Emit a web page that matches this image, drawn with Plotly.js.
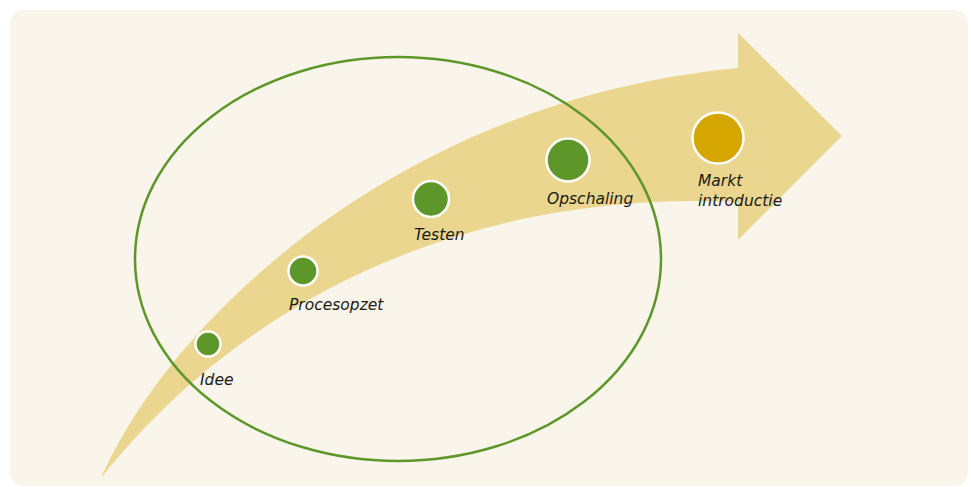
<!DOCTYPE html>
<html>
<head>
<meta charset="utf-8">
<script src="https://cdn.plot.ly/plotly-3.0.1.min.js"></script>
<style>html,body{margin:0;padding:0;background:#fff;}#chart{width:971px;height:487px;}</style>
</head>
<body>
<div id="chart"></div>
<script>
// Stages of the innovation path
var stages = ["Idee", "Procesopzet", "Testen", "Opschaling", "Markt<br>introductie"];
var stageX = [208, 303, 431, 568, 718];
var stageY = [344, 271, 199, 160, 138];
var stageSize = [25, 29, 36, 43, 51];
var stageColor = ["#5d972a", "#5d972a", "#5d972a", "#5d972a", "#d6a600"];
var labelX = [198, 287, 412, 545, 696];
var labelY = [380, 305, 235, 199, 191];

var bg = "#f9f5ea";
var arrowCol = "#ead68e";
var green = "#5d972a";

var arrowPath = "M 101 478 C 170 320 400 100 738 68 L 738 33 L 842 136 L 738 240 L 738 202 " +
                "C 480 190 250 290 101 478 Z";
var bgPath = "M 25 10 L 953 10 Q 968 10 968 25 L 968 472 Q 968 486 953 486 L 25 486 Q 10 486 10 472 L 10 25 Q 10 10 25 10 Z";

var trace = {
  x: stageX, y: stageY, mode: "markers", type: "scatter",
  marker: {size: stageSize, color: stageColor, opacity: 1, line: {color: "#ffffff", width: 2.5}},
  hoverinfo: "skip", showlegend: false
};

var annotations = stages.map(function (s, i) {
  return {
    x: labelX[i], y: labelY[i], xref: "x", yref: "y",
    text: "<i>" + s + "</i>", showarrow: false,
    xanchor: "left", yanchor: "middle", align: "left",
    font: {family: "DejaVu Sans, sans-serif", size: 15.5, color: "#1a1a1a"}
  };
});

var layout = {
  width: 971, height: 487,
  margin: {l: 0, r: 0, t: 0, b: 0},
  paper_bgcolor: "#ffffff", plot_bgcolor: "rgba(0,0,0,0)",
  xaxis: {range: [0, 971], visible: false, fixedrange: true},
  yaxis: {range: [487, 0], visible: false, fixedrange: true},
  shapes: [
    {type: "path", path: bgPath, xref: "x", yref: "y", fillcolor: bg, line: {width: 0}, layer: "below"},
    {type: "path", path: arrowPath, xref: "x", yref: "y", fillcolor: arrowCol, line: {width: 0}, layer: "below"},
    {type: "circle", xref: "x", yref: "y", x0: 135, x1: 661, y0: 57, y1: 461,
     line: {color: green, width: 2.5}, fillcolor: "rgba(0,0,0,0)", layer: "above"}
  ],
  annotations: annotations
};

Plotly.newPlot("chart", [trace], layout, {displayModeBar: false, staticPlot: true});
</script>
</body>
</html>
